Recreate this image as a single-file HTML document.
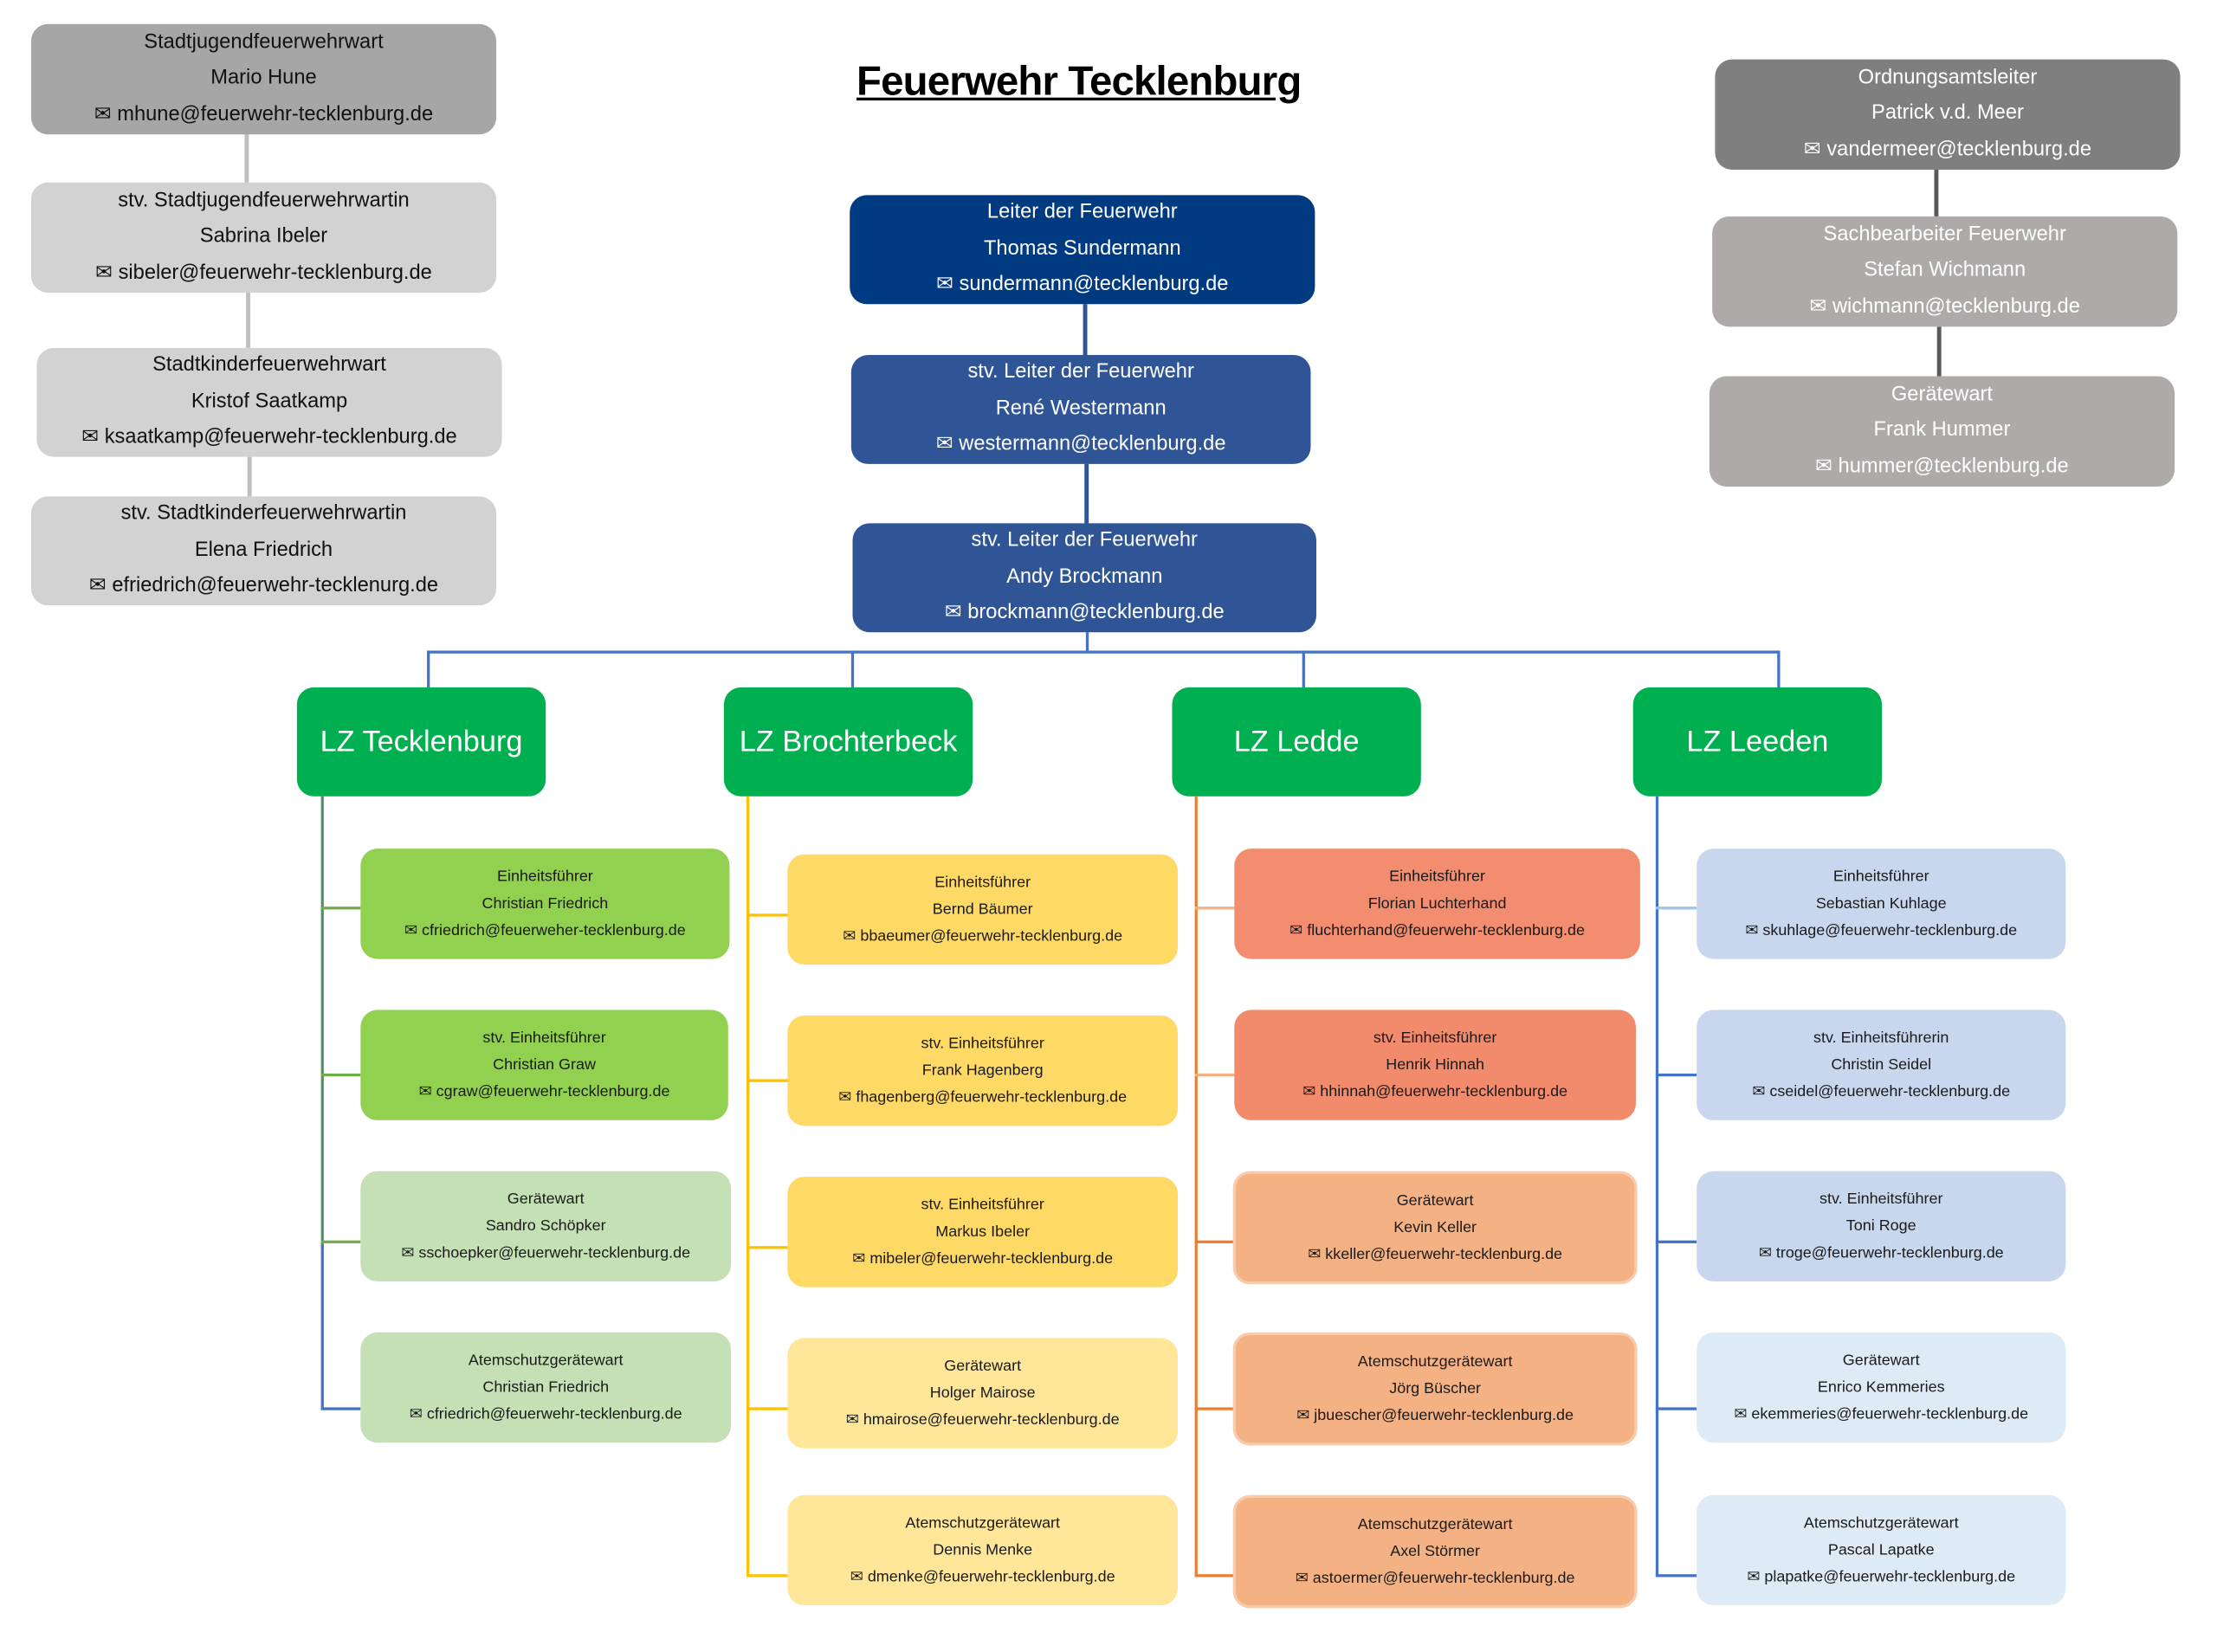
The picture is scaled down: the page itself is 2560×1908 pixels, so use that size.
<!DOCTYPE html>
<html><head><meta charset="utf-8"><style>
html,body{margin:0;padding:0;background:#fff;width:2560px;height:1908px;overflow:hidden}
#w{position:absolute;left:0;top:0;width:1568px;height:1168px;transform:scale(1.63265,1.6336);transform-origin:0 0;font-family:"Liberation Sans",sans-serif}
.b{position:absolute;box-sizing:border-box;border-radius:12px;display:flex;flex-direction:column;justify-content:center;align-items:center;text-align:center;white-space:nowrap}
.t{font-size:14.5px;line-height:25.5px}
.s{font-size:11px;line-height:19px;color:#1a1a1a}
.g{font-size:21px;color:#fff;background:#00b050}
.l{position:absolute}
.h{height:1.5px}.v{width:1.5px}
</style></head><body><div id="w">
<div class="l" style="left:599px;top:42px;width:328px;text-align:center;font-weight:bold;font-size:29px;text-decoration:underline;color:#000;letter-spacing:-0.5px">Feuerwehr Tecklenburg</div>

<!-- left gray connectors -->
<div class="l v" style="left:173px;top:95px;height:34px;background:#bfbfbf;width:3px"></div>
<div class="l v" style="left:174px;top:207px;height:39px;background:#bfbfbf;width:3px"></div>
<div class="l v" style="left:175px;top:323px;height:28px;background:#bfbfbf;width:3px"></div>
<div class="b t" style="left:22px;top:17px;width:329px;height:78px;background:#a6a6a6;color:#111"><div>Stadtjugendfeuerwehrwart</div><div>Mario Hune</div><div>✉ mhune@feuerwehr-tecklenburg.de</div></div>
<div class="b t" style="left:22px;top:129px;width:329px;height:78px;background:#d3d2d2;color:#111"><div>stv. Stadtjugendfeuerwehrwartin</div><div>Sabrina Ibeler</div><div>✉ sibeler@feuerwehr-tecklenburg.de</div></div>
<div class="b t" style="left:26px;top:246px;width:329px;height:77px;background:#d3d2d2;color:#111"><div>Stadtkinderfeuerwehrwart</div><div>Kristof Saatkamp</div><div>✉ ksaatkamp@feuerwehr-tecklenburg.de</div></div>
<div class="b t" style="left:22px;top:351px;width:329px;height:77px;background:#d3d2d2;color:#111"><div>stv. Stadtkinderfeuerwehrwartin</div><div>Elena Friedrich</div><div>✉ efriedrich@feuerwehr-tecklenurg.de</div></div>

<!-- center -->
<div class="l v" style="left:766px;top:215px;height:36px;background:#2f5597;width:3px"></div>
<div class="l v" style="left:767px;top:328px;height:42px;background:#2f5597;width:3px"></div>
<div class="l v" style="left:768px;top:447px;height:13px;background:#4472c4"></div>
<div class="l h" style="left:302px;top:460px;width:956px;background:#4472c4"></div>
<div class="l v" style="left:302px;top:460px;height:26px;background:#4472c4"></div>
<div class="l v" style="left:602px;top:460px;height:26px;background:#4472c4"></div>
<div class="l v" style="left:921px;top:460px;height:26px;background:#4472c4"></div>
<div class="l v" style="left:1257px;top:460px;height:26px;background:#4472c4"></div>
<div class="b t" style="left:601px;top:138px;width:329px;height:77px;background:#003a80;color:#fff"><div>Leiter der Feuerwehr</div><div>Thomas Sundermann</div><div>✉ sundermann@tecklenburg.de</div></div>
<div class="b t" style="left:602px;top:251px;width:325px;height:77px;background:#2f5597;color:#fff"><div>stv. Leiter der Feuerwehr</div><div>René Westermann</div><div>✉ westermann@tecklenburg.de</div></div>
<div class="b t" style="left:603px;top:370px;width:328px;height:77px;background:#2f5597;color:#fff"><div>stv. Leiter der Feuerwehr</div><div>Andy Brockmann</div><div>✉ brockmann@tecklenburg.de</div></div>

<!-- right gray -->
<div class="l v" style="left:1368px;top:120px;height:33px;background:#595959;width:3px"></div>
<div class="l v" style="left:1370px;top:231px;height:35px;background:#595959;width:3px"></div>
<div class="b t" style="left:1213px;top:42px;width:329px;height:78px;background:#7f7f7f;color:#fff"><div>Ordnungsamtsleiter</div><div>Patrick v.d. Meer</div><div>✉ vandermeer@tecklenburg.de</div></div>
<div class="b t" style="left:1211px;top:153px;width:329px;height:78px;background:#aeaaaa;color:#fff"><div>Sachbearbeiter Feuerwehr</div><div>Stefan Wichmann</div><div>✉ wichmann@tecklenburg.de</div></div>
<div class="b t" style="left:1209px;top:266px;width:329px;height:78px;background:#aeaaaa;color:#fff"><div>Gerätewart</div><div>Frank Hummer</div><div>✉ hummer@tecklenburg.de</div></div>

<!-- LZ -->
<div class="b g" style="left:210px;top:486px;width:176px;height:77px">LZ Tecklenburg</div>
<div class="b g" style="left:512px;top:486px;width:176px;height:77px">LZ Brochterbeck</div>
<div class="b g" style="left:829px;top:486px;width:176px;height:77px">LZ Ledde</div>
<div class="b g" style="left:1155px;top:486px;width:176px;height:77px">LZ Leeden</div>

<!-- col1 -->
<div class="l v" style="left:227px;top:563px;height:320px;background:#548e6a;width:2px"></div>
<div class="l v" style="left:227px;top:880px;height:116px;background:#4472c4;width:2px"></div>
<div class="l h" style="left:227px;top:641px;width:28px;background:#70ad47"></div>
<div class="l h" style="left:227px;top:759px;width:28px;background:#70ad47"></div>
<div class="l h" style="left:227px;top:877px;width:28px;background:#70ad47"></div>
<div class="l h" style="left:227px;top:995px;width:28px;background:#4472c4;height:2px"></div>
<div class="b s" style="left:255px;top:600px;width:261px;height:78px;background:#92d050"><div>Einheitsführer</div><div>Christian Friedrich</div><div>✉ cfriedrich@feuerweher-tecklenburg.de</div></div>
<div class="b s" style="left:255px;top:714px;width:260px;height:78px;background:#92d050"><div>stv. Einheitsführer</div><div>Christian Graw</div><div>✉ cgraw@feuerwehr-tecklenburg.de</div></div>
<div class="b s" style="left:255px;top:828px;width:262px;height:78px;background:#c5e0b4"><div>Gerätewart</div><div>Sandro Schöpker</div><div>✉ sschoepker@feuerwehr-tecklenburg.de</div></div>
<div class="b s" style="left:255px;top:942px;width:262px;height:78px;background:#c5e0b4"><div>Atemschutzgerätewart</div><div>Christian Friedrich</div><div>✉ cfriedrich@feuerwehr-tecklenburg.de</div></div>

<!-- col2 -->
<div class="l v" style="left:528px;top:563px;height:551px;background:#ffc000;width:2px"></div>
<div class="l h" style="left:528px;top:646px;width:29px;background:#ffc000;height:2px"></div>
<div class="l h" style="left:528px;top:763px;width:29px;background:#ffc000;height:2px"></div>
<div class="l h" style="left:528px;top:881px;width:29px;background:#ffc000;height:2px"></div>
<div class="l h" style="left:528px;top:995px;width:29px;background:#ffc000;height:2px"></div>
<div class="l h" style="left:528px;top:1113px;width:29px;background:#ffc000;height:2px"></div>
<div class="b s" style="left:557px;top:604px;width:276px;height:78px;background:#ffd966"><div>Einheitsführer</div><div>Bernd Bäumer</div><div>✉ bbaeumer@feuerwehr-tecklenburg.de</div></div>
<div class="b s" style="left:557px;top:718px;width:276px;height:78px;background:#ffd966"><div>stv. Einheitsführer</div><div>Frank Hagenberg</div><div>✉ fhagenberg@feuerwehr-tecklenburg.de</div></div>
<div class="b s" style="left:557px;top:832px;width:276px;height:78px;background:#ffd966"><div>stv. Einheitsführer</div><div>Markus Ibeler</div><div>✉ mibeler@feuerwehr-tecklenburg.de</div></div>
<div class="b s" style="left:557px;top:946px;width:276px;height:78px;background:#ffe699"><div>Gerätewart</div><div>Holger Mairose</div><div>✉ hmairose@feuerwehr-tecklenburg.de</div></div>
<div class="b s" style="left:557px;top:1057px;width:276px;height:78px;background:#ffe699"><div>Atemschutzgerätewart</div><div>Dennis Menke</div><div>✉ dmenke@feuerwehr-tecklenburg.de</div></div>

<!-- col3 -->
<div class="l v" style="left:845px;top:563px;height:551px;background:#ed7d31;width:2px"></div>
<div class="l h" style="left:845px;top:641px;width:28px;background:#f4b183"></div>
<div class="l h" style="left:845px;top:759px;width:28px;background:#f4b183"></div>
<div class="l h" style="left:845px;top:877px;width:28px;background:#ed7d31;height:2px"></div>
<div class="l h" style="left:845px;top:995px;width:28px;background:#ed7d31;height:2px"></div>
<div class="l h" style="left:845px;top:1113px;width:28px;background:#ed7d31;height:2px"></div>
<div class="b s" style="left:873px;top:600px;width:287px;height:78px;background:#f28d70"><div>Einheitsführer</div><div>Florian Luchterhand</div><div>✉ fluchterhand@feuerwehr-tecklenburg.de</div></div>
<div class="b s" style="left:873px;top:714px;width:284px;height:78px;background:#f28a6c"><div>stv. Einheitsführer</div><div>Henrik Hinnah</div><div>✉ hhinnah@feuerwehr-tecklenburg.de</div></div>
<div class="b s" style="left:872px;top:828px;width:286px;height:80px;background:#f4b183;border:2px solid #f8cbad"><div>Gerätewart</div><div>Kevin Keller</div><div>✉ kkeller@feuerwehr-tecklenburg.de</div></div>
<div class="b s" style="left:872px;top:942px;width:286px;height:80px;background:#f4b183;border:2px solid #f8cbad"><div>Atemschutzgerätewart</div><div>Jörg Büscher</div><div>✉ jbuescher@feuerwehr-tecklenburg.de</div></div>
<div class="b s" style="left:872px;top:1057px;width:286px;height:80px;background:#f4b183;border:2px solid #f8cbad"><div>Atemschutzgerätewart</div><div>Axel Störmer</div><div>✉ astoermer@feuerwehr-tecklenburg.de</div></div>

<!-- col4 -->
<div class="l v" style="left:1171px;top:563px;height:551px;background:#4472c4;width:2px"></div>
<div class="l h" style="left:1171px;top:641px;width:29px;background:#9dc3e6"></div>
<div class="l h" style="left:1171px;top:759px;width:29px;background:#4472c4;height:2px"></div>
<div class="l h" style="left:1171px;top:877px;width:29px;background:#4472c4;height:2px"></div>
<div class="l h" style="left:1171px;top:995px;width:29px;background:#4472c4;height:2px"></div>
<div class="l h" style="left:1171px;top:1113px;width:29px;background:#4472c4;height:2px"></div>
<div class="b s" style="left:1200px;top:600px;width:261px;height:78px;background:#c9d7ee"><div>Einheitsführer</div><div>Sebastian Kuhlage</div><div>✉ skuhlage@feuerwehr-tecklenburg.de</div></div>
<div class="b s" style="left:1200px;top:714px;width:261px;height:78px;background:#c9d7ee"><div>stv. Einheitsführerin</div><div>Christin Seidel</div><div>✉ cseidel@feuerwehr-tecklenburg.de</div></div>
<div class="b s" style="left:1200px;top:828px;width:261px;height:78px;background:#c9d7ee"><div>stv. Einheitsführer</div><div>Toni Roge</div><div>✉ troge@feuerwehr-tecklenburg.de</div></div>
<div class="b s" style="left:1200px;top:942px;width:261px;height:78px;background:#deebf7"><div>Gerätewart</div><div>Enrico Kemmeries</div><div>✉ ekemmeries@feuerwehr-tecklenburg.de</div></div>
<div class="b s" style="left:1200px;top:1057px;width:261px;height:78px;background:#deebf7"><div>Atemschutzgerätewart</div><div>Pascal Lapatke</div><div>✉ plapatke@feuerwehr-tecklenburg.de</div></div>
</div></body></html>
